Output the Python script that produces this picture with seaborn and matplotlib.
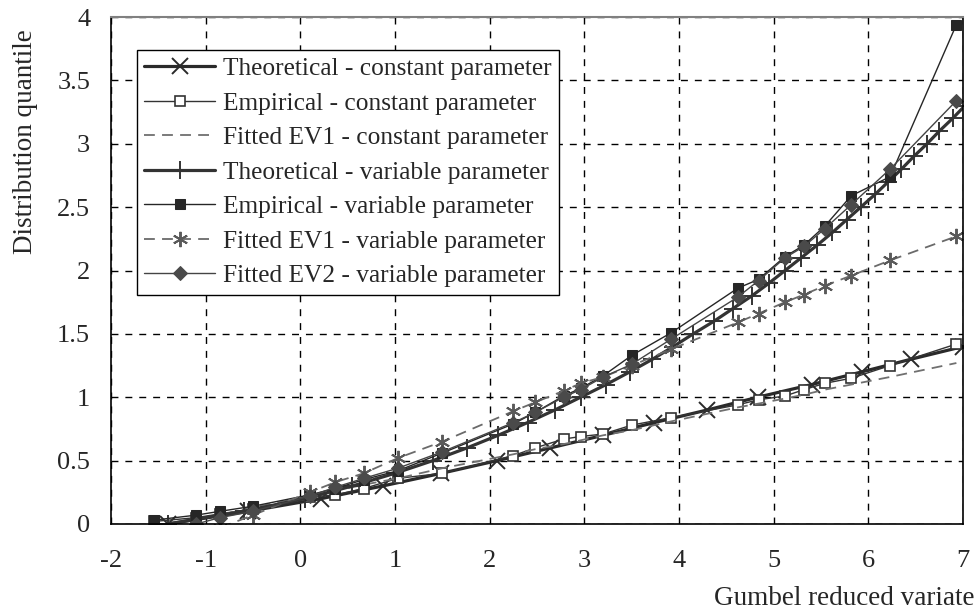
import numpy as np
import pandas as pd
import seaborn as sns
import matplotlib
matplotlib.use("Agg")
import matplotlib.pyplot as plt

# Gumbel reduced variate of the sample points (shared by empirical / fitted series)
emp_x = [-1.55, -1.1, -0.85, -0.5, 0.1, 0.37, 0.67, 1.03, 1.5, 2.25, 2.48, 2.78,
         2.96, 3.2, 3.5, 3.92, 4.62, 4.84, 5.12, 5.32, 5.54, 5.82, 6.23, 6.93]

# constant parameter
th_c_x = [-1.4, -0.55, 0.22, 0.87, 1.49, 2.08, 2.64, 3.2, 3.74, 4.3, 4.83, 5.4,
          5.93, 6.45, 7.0]
th_c_y = [0.0, 0.1, 0.2, 0.3, 0.4, 0.5, 0.6, 0.7, 0.8, 0.9, 1.0, 1.1, 1.2, 1.3, 1.4]
emp_c_y = [0.02, 0.05, 0.08, 0.12, 0.21, 0.23, 0.28, 0.36, 0.40, 0.54, 0.60, 0.67,
           0.69, 0.71, 0.78, 0.84, 0.94, 0.98, 1.01, 1.06, 1.11, 1.15, 1.25, 1.42]
ev1_c_y = [-0.03, 0.04, 0.07, 0.13, 0.22, 0.26, 0.31, 0.36, 0.44, 0.55, 0.59, 0.63,
           0.66, 0.70, 0.74, 0.81, 0.92, 0.95, 0.99, 1.02, 1.06, 1.10, 1.16, 1.27]

# variable parameter
th_v_x = [-1.4, -0.6, 0.05, 0.55, 1.0, 1.4, 1.76, 2.09, 2.4, 2.69, 2.96, 3.23, 3.48,
          3.72, 3.94, 4.15, 4.37, 4.57, 4.77, 4.95, 5.12, 5.29, 5.46, 5.62, 5.77,
          5.92, 6.07, 6.21, 6.35, 6.48, 6.62, 6.75, 6.89, 7.02, 7.15]
th_v_y = [0.0, 0.1, 0.2, 0.3, 0.4, 0.5, 0.6, 0.7, 0.8, 0.9, 1.0, 1.1, 1.2, 1.3, 1.4,
          1.5, 1.6, 1.7, 1.8, 1.9, 2.0, 2.1, 2.2, 2.3, 2.4, 2.5, 2.6, 2.7, 2.8, 2.9,
          3.0, 3.1, 3.2, 3.3, 3.4]
emp_v_y = [0.03, 0.07, 0.10, 0.14, 0.23, 0.28, 0.35, 0.42, 0.56, 0.79, 0.88, 1.01,
           1.07, 1.17, 1.33, 1.51, 1.86, 1.93, 2.11, 2.20, 2.35, 2.59, 2.74, 3.94]
ev1_v_y = [-0.24, -0.10, -0.03, 0.07, 0.25, 0.33, 0.40, 0.52, 0.65, 0.89, 0.96, 1.05,
           1.11, 1.16, 1.25, 1.38, 1.59, 1.66, 1.75, 1.81, 1.88, 1.96, 2.08, 2.27]
ev2_v_y = [-0.08, 0.00, 0.05, 0.10, 0.22, 0.29, 0.36, 0.44, 0.57, 0.80, 0.88, 1.00,
           1.06, 1.16, 1.26, 1.46, 1.79, 1.92, 2.10, 2.19, 2.33, 2.52, 2.80, 3.34]

x_ticks = [-2, -1, 0, 1, 2, 3, 4, 5, 6, 7]
y_ticks = [0, 0.5, 1, 1.5, 2, 2.5, 3, 3.5, 4]

sns.set_style("white")
plt.rcParams["font.family"] = ["Liberation Serif", "DejaVu Serif"]

fig = plt.figure(figsize=(9.76, 6.12), dpi=100)
ax = fig.add_axes([0.1137, 0.1438, 0.873, 0.8284])

# series: label, x, y, style
series = [
    ("Theoretical - constant parameter", th_c_x, th_c_y,
     dict(color="#2a2a2a", lw=2.3, marker="x", ms=11, mew=1.4, mec="#2a2a2a")),
    ("Empirical - constant parameter", emp_x, emp_c_y,
     dict(color="#333333", lw=1.0, marker="s", ms=7, mfc="white", mec="#333333", mew=1.2)),
    ("Fitted EV1 - constant parameter", emp_x, ev1_c_y,
     dict(color="#707070", lw=1.3, ls=(0, (6, 4)))),
    ("Theoretical - variable parameter", th_v_x, th_v_y,
     dict(color="#333333", lw=2.3, marker="+", ms=13, mew=1.4, mec="#333333")),
    ("Empirical - variable parameter", emp_x, emp_v_y,
     dict(color="#262626", lw=1.0, marker="s", ms=7, mfc="#262626", mec="#262626")),
    ("Fitted EV1 - variable parameter", emp_x, ev1_v_y,
     dict(color="#6a6a6a", lw=1.3, ls=(0, (6, 4)), marker=(6, 2, 0), ms=11,
          mew=1.4, mec="#5a5a5a")),
    ("Fitted EV2 - variable parameter", emp_x, ev2_v_y,
     dict(color="#444444", lw=1.0, marker="D", ms=7, mfc="#4a4a4a", mec="#4a4a4a")),
]

for label, xs, ys, st in series:
    df = pd.DataFrame({"x": xs, "y": ys})
    sns.lineplot(data=df, x="x", y="y", ax=ax, sort=False, label=label,
                 estimator=None, **st)

ax.set_xlim(-2, 7)
ax.set_ylim(0, 4)
ax.set_xticks(x_ticks)
ax.set_yticks(y_ticks)
ax.set_xticklabels([f"{v:g}" for v in x_ticks])
ax.set_yticklabels([f"{v:g}" for v in y_ticks])
ax.tick_params(axis="y", direction="inout", length=13, width=1, labelsize=19, pad=8.5)
ax.tick_params(axis="x", direction="out", length=6.5, width=1, labelsize=19, pad=12)

ax.grid(True, color="black", ls=(0, (5, 5)), lw=1)
for s in ["left", "bottom", "right"]:
    ax.spines[s].set_color("black")
    ax.spines[s].set_linewidth(1.2)
ax.spines["top"].set_color("#808080")
ax.spines["top"].set_linewidth(1.5)

ax.set_xlabel("Gumbel reduced variate", fontsize=19.5, ha="right")
ax.xaxis.set_label_coords(1.013, -0.122)
ax.set_ylabel("Distribution quantile", fontsize=19.5)
ax.yaxis.set_label_coords(-0.086, 0.755)

leg = ax.legend(loc="upper left", bbox_to_anchor=(0.03, 0.935), borderaxespad=0,
                fontsize=18.3, frameon=True, fancybox=False, framealpha=1,
                edgecolor="black", handlelength=2.8, handletextpad=0.3,
                labelspacing=0.46, borderpad=0.3)
leg.get_frame().set_linewidth(1.0)

fig.savefig("out.png", dpi=100)
